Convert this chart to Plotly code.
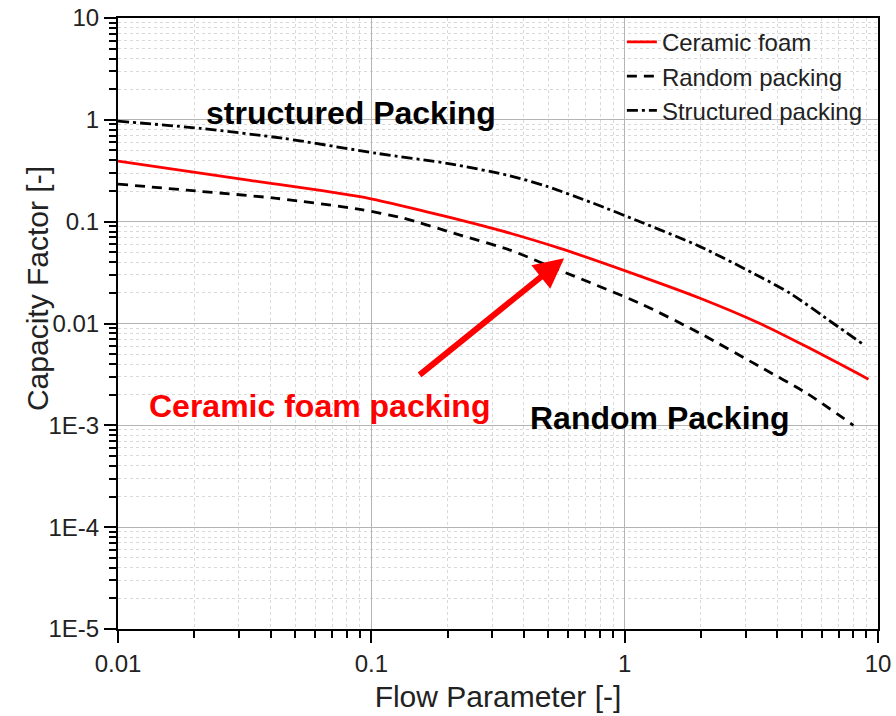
import numpy as np
import plotly.graph_objects as go

# Flow parameter vs. capacity factor for three packing types
foam_x = [0.01, 0.0332, 0.0902, 0.1656, 0.253, 0.322, 0.556, 1.15, 1.985, 3.42, 5.24, 9.17]
foam_y = [0.394, 0.255, 0.176, 0.125, 0.0962, 0.0822, 0.0547, 0.0292, 0.0177, 0.0100, 0.0059, 0.00284]

random_x = [0.01, 0.01867, 0.0423, 0.0902, 0.1337, 0.224, 0.353, 0.4926, 1.15, 1.985, 3.42, 5.24, 8.0]
random_y = [0.234, 0.204, 0.1694, 0.132, 0.1083, 0.0738, 0.0526, 0.0375, 0.01574, 0.0080, 0.00376, 0.00206, 0.001]

struct_x = [0.01, 0.0211, 0.0449, 0.105, 0.2046, 0.353, 0.494, 0.750, 1.15, 1.985, 3.42, 4.50, 6.67, 8.63]
struct_y = [0.97, 0.825, 0.658, 0.469, 0.37, 0.282, 0.222, 0.152, 0.0998, 0.0569, 0.0288, 0.0198, 0.0100, 0.00638]

x_ticks = [0.01, 0.1, 1, 10]
x_ticktext = ["0.01", "0.1", "1", "10"]
y_ticks = [1e-5, 1e-4, 1e-3, 0.01, 0.1, 1, 10]
y_ticktext = ["1E-5", "1E-4", "1E-3", "0.01", "0.1", "1", "10"]

FONT = "Liberation Sans, Arial, sans-serif"


def minor_vals(lo_exp, hi_exp):
    return [m * 10.0 ** e for e in range(lo_exp, hi_exp) for m in range(2, 10)]


fig = go.Figure()
fig.add_trace(go.Scatter(x=foam_x, y=foam_y, mode="lines", name="Ceramic foam",
                         line=dict(color="#ff0000", width=2.8, shape="spline", smoothing=0.7)))
fig.add_trace(go.Scatter(x=random_x, y=random_y, mode="lines", name="Random packing",
                         line=dict(color="#000000", width=2.8, dash="10px,7px", shape="spline", smoothing=0.7)))
fig.add_trace(go.Scatter(x=struct_x, y=struct_y, mode="lines", name="Structured packing",
                         line=dict(color="#000000", width=2.8, dash="11px,4px,3px,4px", shape="spline", smoothing=0.7)))

axis_common = dict(
    type="log",
    automargin=False,
    showline=True, linecolor="black", linewidth=2, mirror=True,
    ticks="outside", ticklen=12, tickwidth=2, tickcolor="black",
    showgrid=True, gridcolor="#b4b4b4", gridwidth=1,
    tickfont=dict(family=FONT, size=24, color="#222222"),
    zeroline=False,
)

fig.update_xaxes(
    **axis_common,
    range=[-2, 1],
    tickmode="array", tickvals=x_ticks, ticktext=x_ticktext,
    minor=dict(tickmode="array", tickvals=minor_vals(-2, 1), ticks="outside", ticklen=7,
               tickwidth=2, tickcolor="black", showgrid=True, gridcolor="#d9d9d9",
               griddash="dot", gridwidth=1),
    title=dict(text="Flow Parameter [-]", font=dict(family=FONT, size=30, color="#222222"), standoff=10),
)
fig.update_yaxes(
    **axis_common,
    range=[-5, 1],
    tickmode="array", tickvals=y_ticks, ticktext=y_ticktext,
    minor=dict(tickmode="array", tickvals=minor_vals(-5, 1), ticks="outside", ticklen=7,
               tickwidth=2, tickcolor="black", showgrid=True, gridcolor="#d9d9d9",
               griddash="dot", gridwidth=1),
)

# Y-axis title, set slightly above the axis centre
fig.add_annotation(x=-0.1066, y=0.558, xref="paper", yref="paper",
                   text="Capacity Factor [-]", textangle=-90, showarrow=False,
                   xanchor="center", yanchor="middle",
                   font=dict(family=FONT, size=30, color="#222222"))

# Text labels and arrow inside the plot
fig.add_annotation(x=np.log10(0.0832), y=np.log10(1.17), xref="x", yref="y",
                   text="<b>structured Packing</b>", showarrow=False,
                   font=dict(family=FONT, size=32, color="black"))
fig.add_annotation(x=np.log10(0.0622), y=np.log10(0.00155), xref="x", yref="y",
                   text="<b>Ceramic foam packing</b>", showarrow=False,
                   font=dict(family=FONT, size=32, color="#ff0000"))
fig.add_annotation(x=np.log10(1.38), y=np.log10(0.00118), xref="x", yref="y",
                   text="<b>Random Packing</b>", showarrow=False,
                   font=dict(family=FONT, size=32, color="black"))
fig.add_annotation(x=np.log10(0.577), y=np.log10(0.0438), xref="x", yref="y",
                   ax=np.log10(0.153), ay=np.log10(0.00305), axref="x", ayref="y",
                   text="", showarrow=True, arrowhead=2, arrowsize=1, arrowwidth=6,
                   arrowcolor="#ff0000")

fig.update_layout(
    width=896, height=716,
    margin=dict(l=118, r=18, t=18, b=87),
    paper_bgcolor="white", plot_bgcolor="white",
    showlegend=True,
    legend=dict(x=0.663, y=0.997, xanchor="left", yanchor="top",
                bgcolor="rgba(0,0,0,0)", borderwidth=0,
                font=dict(family=FONT, size=24, color="#222222"),
                tracegroupgap=0),
)

fig.write_html("out.html")
